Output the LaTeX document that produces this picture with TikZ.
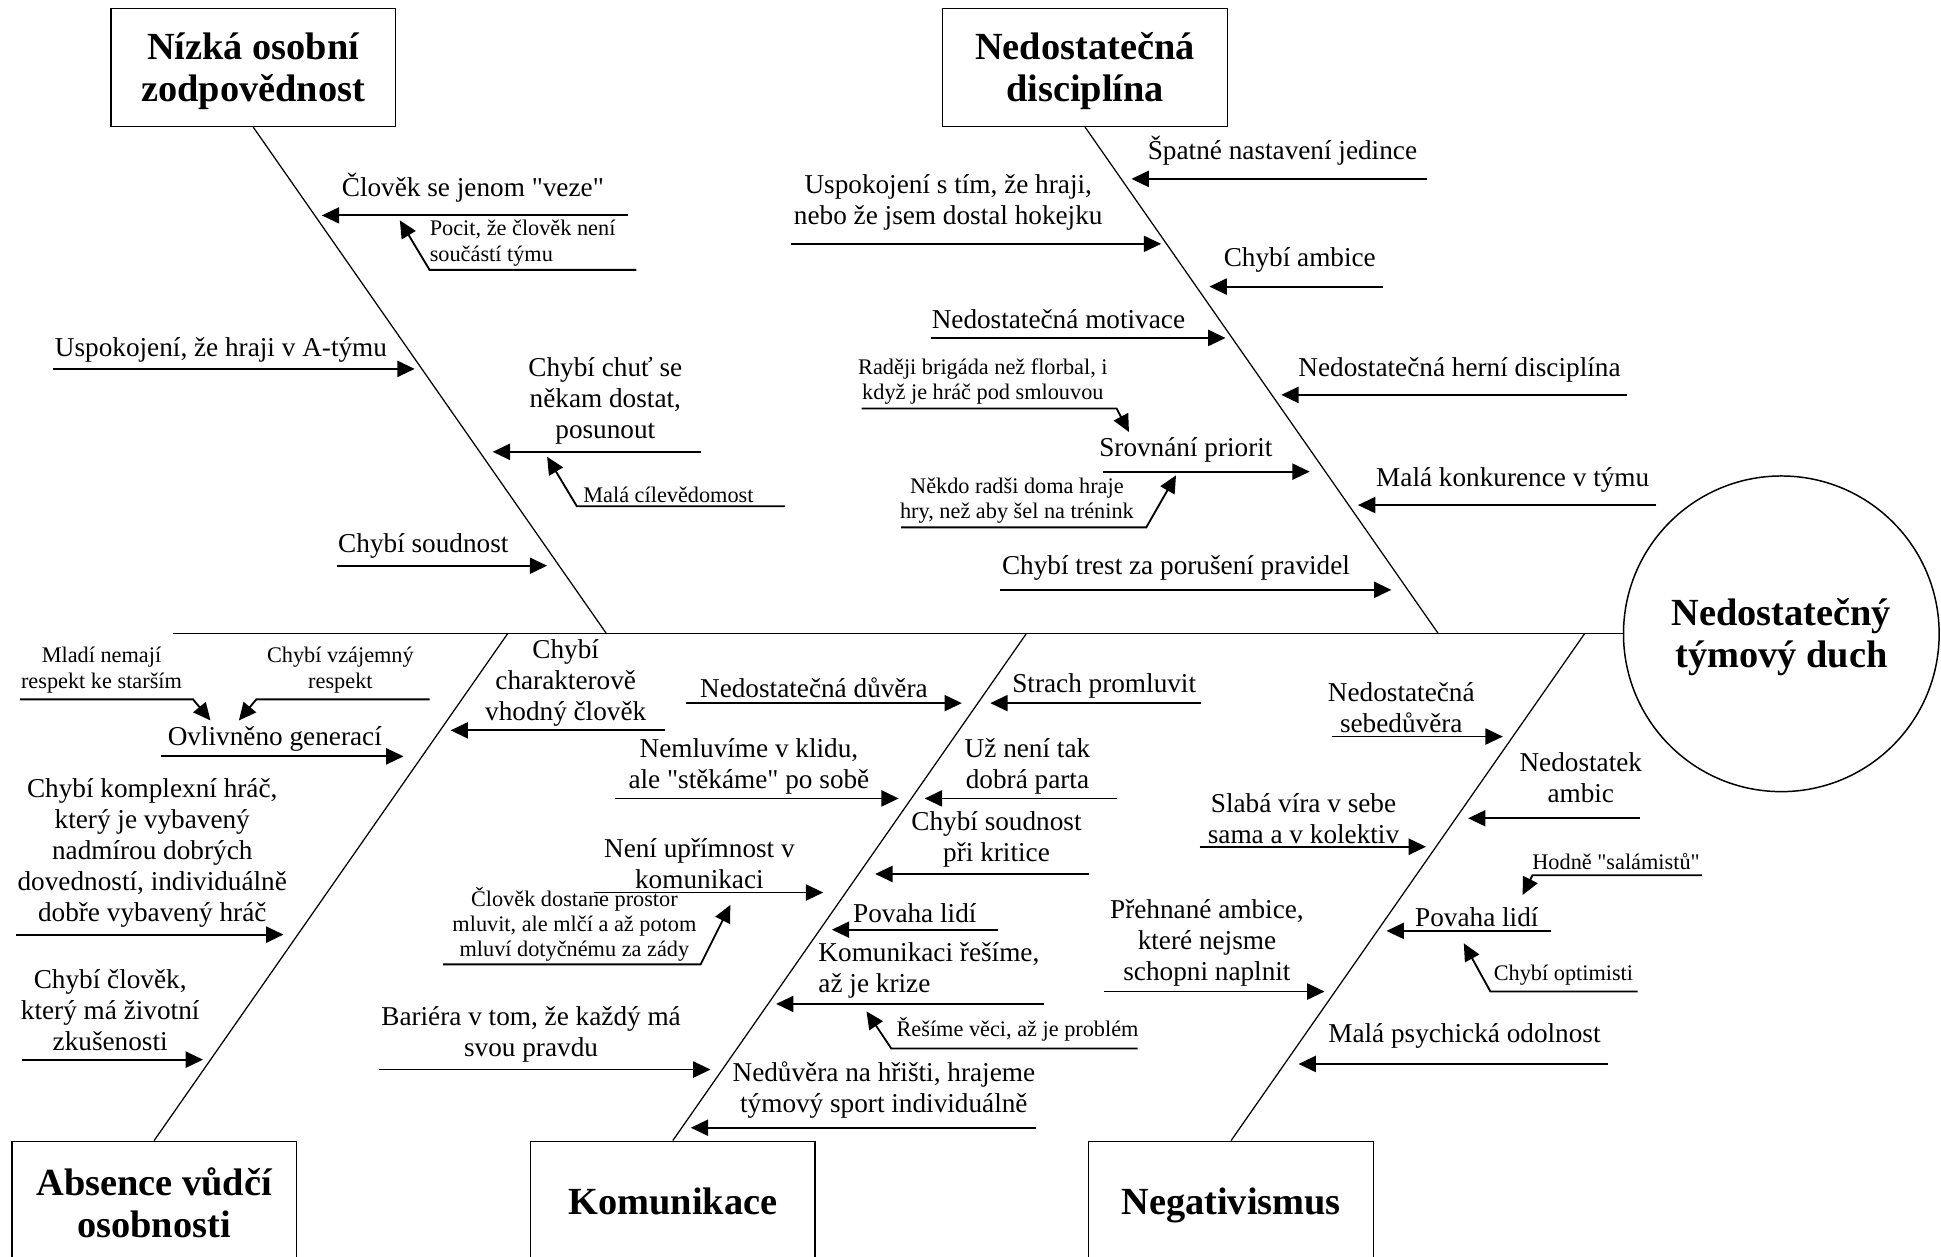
\documentclass[tikz,border=0pt]{standalone}
\usepackage{fontspec}
\setmainfont{Liberation Serif}
\newfontfamily\qf{Liberation Serif}
\newcommand\sq{{\qf"}}
\usetikzlibrary{arrows.meta}
\begin{document}
\begin{tikzpicture}[x=1pt,y=-1pt,
  bone/.style={line width=1pt},
  arr/.style={line width=1.5pt,-{Triangle[length=14pt,width=13pt]}},
  lbl/.style={font=\fontsize{22}{25}\selectfont,align=center,inner sep=0pt,anchor=south},
  sml/.style={font=\fontsize{18}{20.5}\selectfont,align=center,inner sep=0pt,anchor=south},
  head/.style={draw,line width=1.2pt,minimum width=230pt,minimum height=95pt,inner sep=0pt},
  headtxt/.style={inner sep=0pt,align=center,font=\bfseries\fontsize{31}{34}\selectfont},
  effect/.style={draw,circle,line width=1.2pt,minimum size=255pt,inner sep=0pt}]
\useasboundingbox (0,0) rectangle (1568,1015);
\clip (0,0) rectangle (1568,1015);

% heads and effect
\node[head] (h1) at (204.5,54.5) {};
\node[head] (h2) at (876.5,54.5) {};
\node[head] (h3) at (124.5,969.5) {};
\node[head] (h4) at (543.5,969.5) {};
\node[head] (h5) at (994.5,969.5) {};
\node[effect] (eff) at (1439,512) {};
\node[headtxt] (h1t) at ([yshift=-3pt]h1.center) {Nízká osobní\\zodpovědnost};
\node[headtxt] (h2t) at ([yshift=-3pt]h2.center) {Nedostatečná\\disciplína};
\node[headtxt] (h3t) at ([yshift=-2pt]h3.center) {Absence vůdčí\\osobnosti};
\node[headtxt] (h4t) at ([yshift=-1pt]h4.center) {Komunikace};
\node[headtxt] (h5t) at ([yshift=-4pt]h5.center) {Negativismus};
\node[headtxt] (efft) at ([yshift=-3pt]eff.center) {Nedostatečný\\týmový duch};

% spine and bones
\coordinate (s0) at (140,512);
\coordinate (j1) at (490,512);
\coordinate (j2) at (1162,512);
\coordinate (j3) at (410,512);
\coordinate (j4) at (829,512);
\coordinate (j5) at (1280,512);
\draw[bone] (s0) -- (eff.west);
\draw[bone] (h1.south) -- (j1);
\draw[bone] (h2.south) -- (j2);
\draw[bone] (h3.north) -- (j3);
\draw[bone] (h4.north) -- (j4);
\draw[bone] (h5.north) -- (j5);

% ---- Branch 1: Nízká osobní zodpovědnost
\node[lbl] (t1a) at (382,164) {Člověk se jenom \sq veze\sq};
\draw[arr] (507,174) coordinate (s1a) -- (260,174) coordinate (e1a);
\node[sml,anchor=south west,align=left] (t1b) at (347,215) {Pocit, že člověk není\\součástí týmu};
\draw[arr] (514,218) coordinate (s1b) -- (347,218) -- (323,178) coordinate (e1b);
\node[lbl] (t1c) at (178.5,293) {Uspokojení, že hraji v A-týmu};
\draw[arr] (43,298) coordinate (s1c) -- (335,298) coordinate (e1c);
\node[lbl] (t1d) at (489,359) {Chybí chuť se\\někam dostat,\\posunout};
\draw[arr] (566,365) coordinate (s1d) -- (398,365) coordinate (e1d);
\node[sml] (t1e) at (540,406) {Malá cílevědomost};
\draw[arr] (634,409) coordinate (s1e) -- (466,409) -- (442,369) coordinate (e1e);
\node[lbl] (t1f) at (342,451) {Chybí soudnost};
\draw[arr] (272,457) coordinate (s1f) -- (442,457) coordinate (e1f);

% ---- Branch 2: Nedostatečná disciplína
\node[lbl] (t2a) at (1036,134) {Špatné nastavení jedince};
\draw[arr] (1153,144.5) coordinate (s2a) -- (914,144.5) coordinate (e2a);
\node[lbl] (t2b) at (766,186) {Uspokojení s tím, že hraji,\\nebo že jsem dostal hokejku};
\draw[arr] (639,197) coordinate (s2b) -- (938,197) coordinate (e2b);
\node[lbl] (t2c) at (1050,220) {Chybí ambice};
\draw[arr] (1117,231.5) coordinate (s2c) -- (977,231.5) coordinate (e2c);
\node[lbl] (t2d) at (855,266) {Nedostatečná motivace};
\draw[arr] (752,273) coordinate (s2d) -- (990,273) coordinate (e2d);
\node[lbl] (t2e) at (1179,309) {Nedostatečná herní disciplína};
\draw[arr] (1314,319) coordinate (s2e) -- (1035,319) coordinate (e2e);
\node[sml] (t2f) at (794,327) {Raději brigáda než florbal, i\\když je hráč pod smlouvou};
\draw[arr] (696,330) coordinate (s2f) -- (902,330) -- (912,349) coordinate (e2f);
\node[lbl] (t2g) at (958,374) {Srovnání priorit};
\draw[arr] (891,381) coordinate (s2g) -- (1058,381) coordinate (e2g);
\node[sml] (t2h) at (821.5,423) {Někdo radši doma hraje\\hry, než aby šel na trénink};
\draw[arr] (728,426) coordinate (s2h) -- (926,426) -- (950,384) coordinate (e2h);
\node[lbl] (t2i) at (1222,398) {Malá konkurence v týmu};
\draw[arr] (1338,408) coordinate (s2i) -- (1097,408) coordinate (e2i);
\node[lbl] (t2j) at (950,469) {Chybí trest za porušení pravidel};
\draw[arr] (808,476.5) coordinate (s2j) -- (1124,476.5) coordinate (e2j);

% ---- Branch 3: Absence vůdčí osobnosti
\node[sml] (t3a) at (82,560) {Mladí nemají\\respekt ke starším};
\draw[arr] (16,565) coordinate (s3a) -- (156,565) -- (170,582) coordinate (e3a);
\node[sml] (t3b) at (275,560) {Chybí vzájemný\\respekt};
\draw[arr] (347,565) coordinate (s3b) -- (207,565) -- (193,582) coordinate (e3b);
\node[lbl] (t3c) at (222,607) {Ovlivněno generací};
\draw[arr] (130,611) coordinate (s3c) -- (326,611) coordinate (e3c);
\node[lbl] (t3d) at (457,587) {Chybí\\charakterově\\vhodný člověk};
\draw[arr] (537,590) coordinate (s3d) -- (364,590) coordinate (e3d);
\node[lbl] (t3e) at (123,749) {Chybí komplexní hráč,\\který je vybavený\\nadmírou dobrých\\dovedností, individuálně\\dobře vybavený hráč};
\draw[arr] (13,755) coordinate (s3e) -- (229,755) coordinate (e3e);
\node[lbl] (t3f) at (89,849) {Chybí člověk,\\který má životní\\zkušenosti};
\draw[arr] (18,856) coordinate (s3f) -- (164,856) coordinate (e3f);

% ---- Branch 4: Komunikace
\node[lbl] (t4a) at (657.5,564) {Nedostatečná důvěra};
\draw[arr] (554,568) coordinate (s4a) -- (777,568) coordinate (e4a);
\node[lbl] (t4b) at (892,564) {Strach promluvit};
\draw[arr] (970,568) coordinate (s4b) -- (800,568) coordinate (e4b);
\node[lbl] (t4c) at (605,642) {Nemluvíme v klidu,\\ale \sq stěkáme\sq{} po sobě};
\draw[arr] (497,645) coordinate (s4c) -- (726,645) coordinate (e4c);
\node[lbl] (t4d) at (830,642) {Už není tak\\dobrá parta};
\draw[arr] (902,645) coordinate (s4d) -- (747,645) coordinate (e4d);
\node[lbl] (t4e) at (805,701) {Chybí soudnost\\při kritice};
\draw[arr] (880,706) coordinate (s4e) -- (707,706) coordinate (e4e);
\node[lbl] (t4f) at (565,718) {Není upřímnost v\\komunikaci};
\draw[arr] (480,721) coordinate (s4f) -- (665,721) coordinate (e4f);
\node[sml] (t4g) at (464,777) {Člověk dostane prostor\\mluvit, ale mlčí a až potom\\mluví dotyčnému za zády};
\draw[arr] (358,779) coordinate (s4g) -- (566,779) -- (590,731) coordinate (e4g);
\node[lbl] (t4h) at (739,746) {Povaha lidí};
\draw[arr] (806,751) coordinate (s4h) -- (672,751) coordinate (e4h);
\node[lbl,anchor=south west,align=left] (t4i) at (661,807) {Komunikaci řešíme,\\až je krize};
\draw[arr] (843,811) coordinate (s4i) -- (627,811) coordinate (e4i);
\node[sml] (t4j) at (822,841) {Řešíme věci, až je problém};
\draw[arr] (919,847) coordinate (s4j) -- (720,847) -- (700,817) coordinate (e4j);
\node[lbl] (t4k) at (429,858) {Bariéra v tom, že každý má\\svou pravdu};
\draw[arr] (306,864) coordinate (s4k) -- (574,864) coordinate (e4k);
\node[lbl] (t4l) at (714,904) {Nedůvěra na hřišti, hrajeme\\týmový sport individuálně};
\draw[arr] (837,911) coordinate (s4l) -- (558,911) coordinate (e4l);

% ---- Branch 5: Negativismus
\node[lbl] (t5a) at (1132,592) {Nedostatečná\\sebedůvěra};
\draw[arr] (1076,595) coordinate (s5a) -- (1214,595) coordinate (e5a);
\node[lbl] (t5b) at (1277,649) {Nedostatek\\ambic};
\draw[arr] (1325,661) coordinate (s5b) -- (1186,661) coordinate (e5b);
\node[lbl] (t5c) at (1053,682) {Slabá víra v sebe\\sama a v kolektiv};
\draw[arr] (969,684) coordinate (s5c) -- (1152,684) coordinate (e5c);
\node[sml] (t5d) at (1305.5,703) {Hodně \sq salámistů\sq};
\draw[arr] (1375,707) coordinate (s5d) -- (1238,707) -- (1230,723) coordinate (e5d);
\node[lbl] (t5e) at (1193,749) {Povaha lidí};
\draw[arr] (1253,752) coordinate (s5e) -- (1120,752) coordinate (e5e);
\node[sml] (t5f) at (1263,796) {Chybí optimisti};
\draw[arr] (1323,801) coordinate (s5f) -- (1204,801) -- (1182.5,762) coordinate (e5f);
\node[lbl] (t5g) at (975,797) {Přehnané ambice,\\které nejsme\\schopni naplnit};
\draw[arr] (892,801) coordinate (s5g) -- (1070,801) coordinate (e5g);
\node[lbl] (t5h) at (1183,847) {Malá psychická odolnost};
\draw[arr] (1299,859.5) coordinate (s5h) -- (1049,859.5) coordinate (e5h);
\end{tikzpicture}
\end{document}
